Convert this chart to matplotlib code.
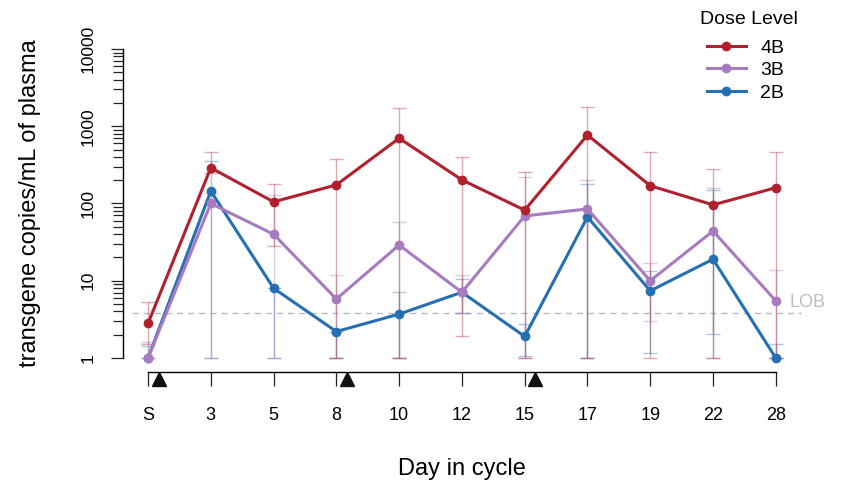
import matplotlib
matplotlib.use('Agg')
import matplotlib.pyplot as plt
import numpy as np
from matplotlib.transforms import blended_transform_factory
from matplotlib.ticker import FixedLocator, NullFormatter

plt.rcParams['font.family'] = ['Liberation Sans', 'DejaVu Sans']

# ---------------- data ----------------
days = ['S', '3', '5', '8', '10', '12', '15', '17', '19', '22', '28']

mean_4B = [2.8, 290, 105, 174, 700, 202, 82, 770, 170, 96, 160]
upper_4B = [5.3, 470, 180, 380, 1730, 400, 257, 1780, 470, 280, 470]
lower_4B = [1.5, 250, 28, 1, 1, 1.9, 1, 1, 1, 1, 1]

mean_3B = [1, 100, 40, 5.8, 29, 7.1, 69, 85, 10, 44, 5.5]
upper_3B = [1.6, 137, 130, 12, 58, 11.8, 220, 203, 17, 160, 13.8]
lower_3B = [1, 1, 1, 1, 1, 3.8, 1, 1, 3.0, 1, 1]

mean_2B = [1, 145, 8, 2.2, 3.7, 7.1, 1.9, 67, 7.4, 19, 1]
upper_2B = [1.45, 350, 8, 2.2, 7.2, 10.5, 2.75, 180, 13.5, 150, 1.5]
lower_2B = [1, 1, 1, 1, 1, 3.8, 1.05, 1, 1.16, 2.05, 1]

LOB = 3.8
dose_days = [0.17, 3.17, 6.17]   # dosing markers (between sample days)

series_names = ['2B', '3B', '4B']
colors = {'4B': '#B2202E', '3B': '#A87BC1', '2B': '#2470B3'}
data = {
    '4B': (mean_4B, lower_4B, upper_4B),
    '3B': (mean_3B, lower_3B, upper_3B),
    '2B': (mean_2B, lower_2B, upper_2B),
}

# ---------------- figure ----------------
W, H = 841, 491
fig = plt.figure(figsize=(W / 100, H / 100), dpi=100)
ax = fig.add_axes([122.9 / W, (H - 358) / H, 678 / W, 309 / H])

x = np.arange(len(days))

# error bars first
for name in series_names:
    m, lo, up = (np.array(v, dtype=float) for v in data[name])
    cont = ax.errorbar(x, m, yerr=[m - lo, up - m], fmt='none',
                       ecolor=colors[name], alpha=0.38, elinewidth=1.0,
                       capsize=4.8, capthick=1.0, zorder=1)
    for c in cont.lines[1]:
        c.set_clip_on(False)
    for c in cont.lines[2]:
        c.set_clip_on(False)

lines = {}
for name in series_names:
    m = data[name][0]
    ln, = ax.plot(x, m, '-o', color=colors[name], lw=2.2, ms=6,
                  mec=colors[name], clip_on=False, zorder=3)
    lines[name] = ln

# LOB
ax.hlines(LOB, -0.25, 10.4, colors='#B8BAC2', linestyles=(0, (4.5, 3.5)),
          lw=1.0, zorder=0.5, clip_on=False)
ax.annotate('LOB', xy=(10.4, LOB), xytext=(-11, 11), textcoords='offset pixels',
            ha='left', va='center', color='#BDBDBD', fontsize=13)

# axes
ax.set_yscale('log')
ax.set_ylim(1, 10000)
ax.set_xlim(-0.4, 10.4)

ax.set_yticks([1, 10, 100, 1000, 10000])
ax.set_yticklabels(['1', '10', '100', '1000', '10000'])
minor = [d * 10 ** k for k in range(4) for d in range(2, 10)]
ax.yaxis.set_minor_locator(FixedLocator(minor))
ax.yaxis.set_minor_formatter(NullFormatter())
ax.tick_params(axis='y', which='major', length=8.5, width=0.9, pad=11,
               labelsize=12.5, labelrotation=90, color='#222222')
ax.tick_params(axis='y', which='minor', length=7.5, width=0.9, color='#222222')
for lab in ax.get_yticklabels():
    lab.set_va('center')

ax.set_xticks(x)
ax.set_xticklabels(days)
ax.tick_params(axis='x', length=10, width=0.9, pad=15, labelsize=13,
               color='#222222')

for s in ['top', 'right']:
    ax.spines[s].set_visible(False)
ax.spines['left'].set_bounds(1, 10000)
ax.spines['left'].set_linewidth(1.0)
ax.spines['bottom'].set_position(('outward', 10.1))
ax.spines['bottom'].set_bounds(0, 10)
ax.spines['bottom'].set_linewidth(1.0)

# dosing triangles just under the x axis line
trans = blended_transform_factory(ax.transData, ax.transAxes)
ax.plot(dose_days, [-0.068] * len(dose_days), linestyle='none', marker='^',
        color='#111111', ms=9.5, transform=trans, clip_on=False)

ax.set_ylabel('transgene copies/mL of plasma', fontsize=17)
ax.yaxis.label.set_va('center')
ax.yaxis.set_label_coords(-0.137, 0.5)
ax.set_xlabel('Day in cycle', fontsize=17)
ax.xaxis.label.set_va('center')
ax.xaxis.set_label_coords(0.5, -0.36)

# legend
ax.legend(handles=[lines['4B'], lines['3B'], lines['2B']],
          labels=['4B', '3B', '2B'], loc='upper left',
          bbox_to_anchor=(707 / W, 1 - 39 / H), bbox_transform=fig.transFigure,
          frameon=False, borderpad=0, borderaxespad=0, handlelength=2.0,
          handletextpad=0.75, labelspacing=0.25, fontsize=14)
fig.text(700 / W, 1 - 24 / H, 'Dose Level', fontsize=14, ha='left',
         va='baseline')

fig.savefig('out.png', dpi=100)
